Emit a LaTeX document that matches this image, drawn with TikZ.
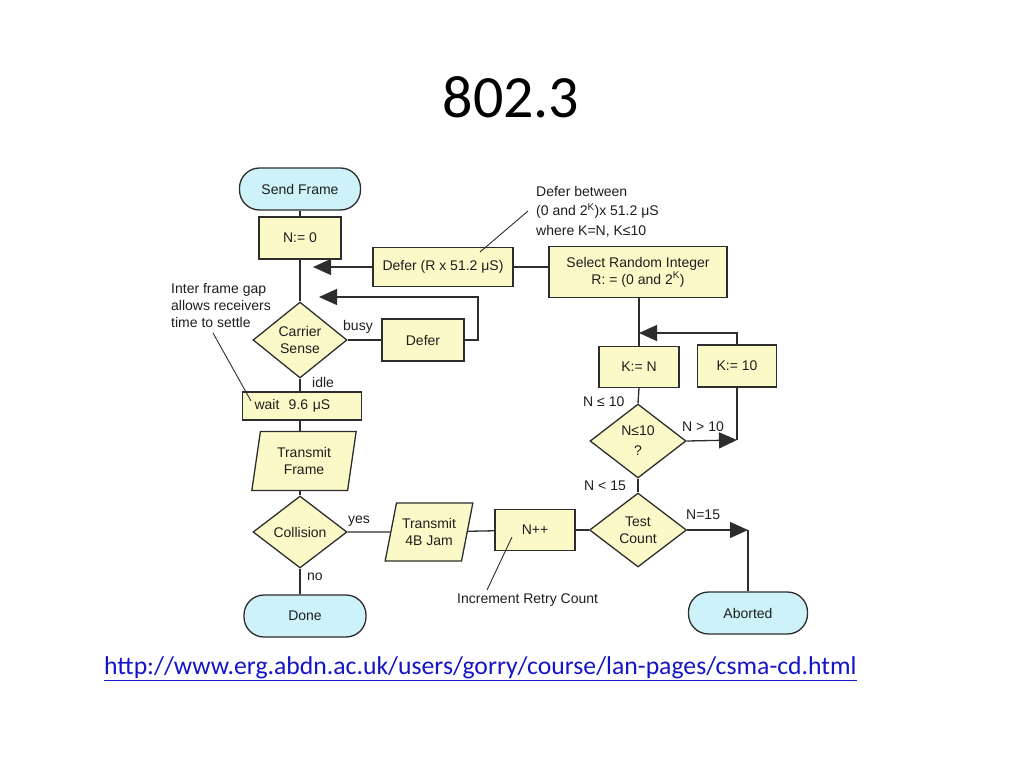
\documentclass[tikz,border=0pt]{standalone}
\usepackage{fontspec}
\setmainfont{Liberation Sans}
\newfontfamily\titlefont{Carlito}
\usetikzlibrary{shapes.geometric,arrows.meta}
\definecolor{boxyellow}{RGB}{252,249,200}
\definecolor{termcyan}{RGB}{206,242,250}
\definecolor{linegray}{RGB}{45,45,45}
\definecolor{txtgray}{RGB}{30,30,30}
\definecolor{urlblue}{RGB}{20,20,200}
\tikzset{
  base/.style={draw=linegray, line width=1.3pt, text=txtgray, inner sep=0pt,
    font=\fontsize{14}{17}\selectfont, align=center},
  term/.style={base, fill=termcyan, rounded corners=20pt},
  proc/.style={base, fill=boxyellow, rectangle},
  dec/.style={base, fill=boxyellow, diamond},
  para/.style={base, fill=boxyellow, trapezium, trapezium stretches=true},
  conn/.style={draw=linegray, line width=1.3pt},
  arr/.style={conn, -{Triangle[length=18pt,width=16pt]}},
  lab/.style={text=txtgray, inner sep=0pt, font=\fontsize{14}{16}\selectfont},
  note/.style={text=txtgray, inner sep=0pt, align=left, font=\fontsize{14}{19.5}\selectfont},
}
\begin{document}
\begin{tikzpicture}[x=1pt,y=-1pt]
\useasboundingbox (0,0) rectangle (1024,768);
% title
\node[font=\titlefont\fontsize{60}{66}\selectfont, inner sep=0pt] (title) at (511,97) {802.3};
% nodes
\node[term, minimum width=121pt, minimum height=42pt] (send) at (300,189) {Send Frame};
\node[proc, minimum width=82pt, minimum height=42pt] (n0) at (300,238) {N:= 0};
\node[dec, minimum width=94pt, minimum height=76pt] (cs) at (300,340) {Carrier\\Sense};
\node[proc, minimum width=82pt, minimum height=42pt] (defer) at (423,340) {Defer};
\node[proc, minimum width=140pt, minimum height=39pt] (deferR) at (443,267) {Defer (R x 51.2 μS)};
\node[proc, minimum width=178pt, minimum height=51pt] (select) at (638,272) {Select Random Integer\\R: = (0 and 2\textsuperscript{K})};
\node[proc, minimum width=80pt, minimum height=41pt] (kn) at (639,367) {K:= N};
\node[proc, minimum width=79pt, minimum height=42pt] (k10) at (737,366) {K:= 10};
\node[dec, minimum width=96pt, minimum height=74pt, font=\fontsize{14}{20}\selectfont] (nle) at (638,441) {N≤10\\?};
\node[dec, minimum width=97pt, minimum height=74pt] (test) at (638,530) {Test\\Count};
\node[term, minimum width=119pt, minimum height=42pt] (abort) at (748,613) {Aborted};
\node[proc, minimum width=80pt, minimum height=41pt] (npp) at (535,530) {N++};
\node[para, trapezium left angle=71, trapezium right angle=109, minimum width=88pt, minimum height=58pt] (jam) at (429,532) {Transmit\\4B Jam};
\node[dec, minimum width=94pt, minimum height=72pt] (col) at (300,532) {Collision};
\node[term, minimum width=122pt, minimum height=42pt] (done) at (305,616) {Done};
\node[para, trapezium left angle=79, trapezium right angle=101, minimum width=105pt, minimum height=59pt] (tframe) at (304,461) {Transmit\\Frame};
\node[proc, minimum width=119pt, minimum height=28pt, text width=111pt, align=left] (wait) at (302,406) {\hspace*{8pt}wait\ \ 9.6 μS};
% coordinates
\coordinate (a1) at (313,267);
\coordinate (b1) at (478,340);
\coordinate (b2) at (478,297);
\coordinate (a2) at (319,297);
\coordinate (c1) at (737,333);
\coordinate (a3) at (639,333);
\coordinate (a4) at (737,440);
\coordinate (a5) at (748,530);
% main line
\draw[conn] (send) -- (n0);
\draw[conn] (n0) -- (cs);
\draw[conn] (cs) -- (wait.north -| cs);
\draw[conn] (wait.south -| cs) -- (tframe.north -| cs);
\draw[conn] (tframe.south -| cs) -- (col);
\draw[conn] (col) -- (done.north -| col);
% busy loop
\draw[conn] (cs) -- (defer);
\draw[arr] (defer.east) -- (b1) -- (b2) -- (a2);
% backoff
\draw[conn] (select.west |- deferR) -- (deferR.east);
\draw[arr] (deferR.west) -- (a1);
\draw[conn] (select.south -| kn) -- (kn);
\draw[arr] (k10.north) -- (c1) -- (a3);
\draw[conn] (kn.south) -- (nle.north);
\draw[arr] (nle.east) -- (a4);
\draw[conn] (a4) -- (k10.south);
\draw[conn] (nle) -- (test);
\draw[arr] (test.east) -- (a5);
\draw[conn] (a5) -- (abort.north);
% collision path
\draw[conn] (col) -- (jam);
\draw[conn] (jam) -- (npp);
\draw[conn] (npp) -- (test);
% labels
\node[lab, anchor=west] (lbusy) at (343,327) {busy};
\node[lab, anchor=west] (lidle) at (312,382) {idle};
\node[lab, anchor=west] (lyes) at (348,521) {yes};
\node[lab, anchor=west] (lno) at (307,577) {no};
\node[lab, anchor=west] (l1) at (583,402) {N ≤ 10};
\node[lab, anchor=west] (l2) at (682,427) {N > 10};
\node[lab, anchor=west] (l3) at (584,486) {N < 15};
\node[lab, anchor=west] (l4) at (686,515) {N=15};
% notes
\node[note, anchor=north west] (ndefer) at (536,186) {Defer between\\(0 and 2\textsuperscript{K})x 51.2 μS\\where K=N, K≤10};
\draw[conn, line width=0.9pt] (528,211) -- (480,252);
\node[note, anchor=north west, font=\fontsize{14}{17}\selectfont] (ngap) at (171,283) {Inter frame gap\\allows receivers\\time to settle};
\draw[conn, line width=0.9pt] (213,333) -- (251,401);
\node[lab, anchor=west] (ninc) at (457,600) {Increment Retry Count};
\draw[conn, line width=0.9pt] (487,590) -- (512,537);
% url
\node[text=urlblue, inner sep=0pt, anchor=west, font=\titlefont\fontsize{25.7}{29}\selectfont] (url) at (104,669) {\underline{http://www.erg.abdn.ac.uk/users/gorry/course/lan-pages/csma-cd.html}};
\end{tikzpicture}
\end{document}
